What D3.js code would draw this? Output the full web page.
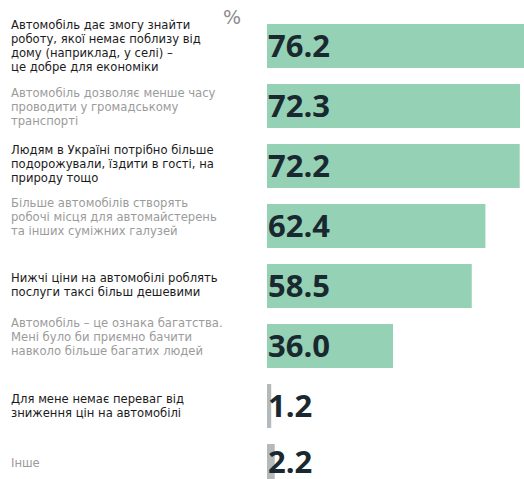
<!DOCTYPE html>
<html lang="uk">
<head>
<meta charset="utf-8">
<script src="https://cdn.jsdelivr.net/npm/d3@7"></script>
<style>
  html, body { margin: 0; padding: 0; background: #ffffff; }
  svg { display: block; }
</style>
</head>
<body>
<svg id="chart" width="524" height="479"></svg>
<script>
// Survey answers (line breaks mark how each statement wraps)
const categories = [
  "Автомобіль дає змогу знайти\nроботу, якої немає поблизу від\nдому (наприклад, у селі) –\nце добре для економіки",
  "Автомобіль дозволяє менше часу\nпроводити у громадському\nтранспорті",
  "Людям в Україні потрібно більше\nподорожували, їздити в гості, на\nприроду тощо",
  "Більше автомобілів створять\nробочі місця для автомайстерень\nта інших суміжних галузей",
  "Нижчі ціни на автомобілі роблять\nпослуги таксі більш дешевими",
  "Автомобіль – це ознака багатства.\nМені було би приємно бачити\nнавколо більше багатих людей",
  "Для мене немає переваг від\nзниження цін на автомобілі",
  "Інше"
];
const values = [76.2, 72.3, 72.2, 62.4, 58.5, 36.0, 1.2, 2.2];
const unitLabel = "%";

// Layout and styling
const width = 524, height = 479;
const barLeft = 267;
const pxPerUnit = 3.5;
const labelX = 11;
const lineHeight = 14;
const labelNudge = [1, 2, -1, -8, 0, -8, 1, -2];
const greenFill = "#95d1b4";
const greyFill = "#b4b9bb";
const darkText = "#1b1b1b";
const greyText = "#9b9b9b";
const valueText = "#1a2830";

const svg = d3.select("#chart");

const x = d3.scaleLinear()
  .domain([0, 100])
  .range([barLeft, barLeft + 100 * pxPerUnit]);

const y = d3.scaleBand()
  .domain(d3.range(categories.length))
  .range([24, 488])
  .paddingInner(16 / 60)
  .paddingOuter(0);

const rows = categories.map((c, i) => ({ i, lines: c.split("\n"), v: values[i] }));

// Bars
svg.append("g")
  .selectAll("rect")
  .data(rows)
  .join("rect")
  .attr("x", x(0))
  .attr("y", d => y(d.i))
  .attr("width", d => x(d.v) - x(0))
  .attr("height", y.bandwidth())
  .attr("fill", d => d.i >= 6 ? greyFill : greenFill);

// Value labels, centred on the visible part of each bar
const fmt = d3.format(".1f");
const visibleMid = i => (y(i) + Math.min(y(i) + y.bandwidth(), height)) / 2;
svg.append("g")
  .selectAll("text")
  .data(rows)
  .join("text")
  .attr("x", x(0) + 1)
  .attr("y", d => visibleMid(d.i) + 11)
  .attr("font-family", "'Open Sans', sans-serif")
  .attr("font-weight", 700)
  .attr("font-size", 31)
  .attr("fill", valueText)
  .text(d => fmt(d.v));

// Statement labels on the left, alternating dark and grey
const lbl = svg.append("g")
  .selectAll("text")
  .data(rows)
  .join("text")
  .attr("font-family", "'DejaVu Sans', Verdana, sans-serif")
  .attr("font-size", 11.6)
  .attr("fill", d => d.i % 2 === 0 ? darkText : greyText)
  .attr("y", d => y(d.i) + y.bandwidth() / 2 + 3 + labelNudge[d.i]
                  - (d.lines.length - 1) * lineHeight / 2);

lbl.selectAll("tspan")
  .data(d => d.lines)
  .join("tspan")
  .attr("x", labelX)
  .attr("dy", (l, j) => j === 0 ? 0 : lineHeight)
  .text(l => l);

// Unit marker
svg.append("text")
  .attr("x", 223)
  .attr("y", 24)
  .attr("font-family", "'DejaVu Sans', sans-serif")
  .attr("font-size", 19)
  .attr("fill", "#8c8c8c")
  .text(unitLabel);
</script>
</body>
</html>
